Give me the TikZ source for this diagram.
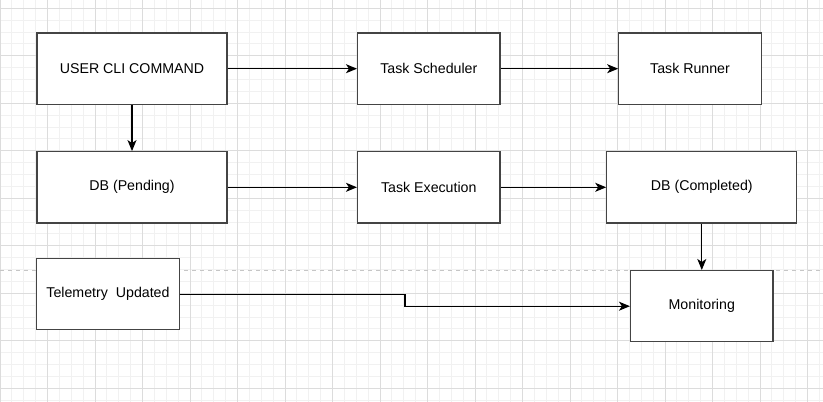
\documentclass[tikz,border=0pt]{standalone}
\usepackage{fontspec}
\setmainfont{Liberation Sans}
\usepackage{tikz}
\usetikzlibrary{arrows.meta}
\tikzset{>={Stealth[length=11pt,width=9pt,inset=3pt]}}
\definecolor{gridmajor}{HTML}{DCDCDC}
\definecolor{gridminor}{HTML}{F1F1F1}
\definecolor{boxline}{HTML}{444444}
\tikzset{
  box/.style={draw=boxline,line width=1.2pt,fill=white,inner sep=0pt,
    minimum width=142.5pt,minimum height=71.25pt,
    font=\fontsize{14.2}{17}\selectfont},
  widebox/.style={box,minimum width=190pt},
  link/.style={->,line width=1.2pt,black}
}

\begin{document}
\begin{tikzpicture}[x=1pt,y=-1pt]
  \useasboundingbox (0,0) rectangle (823,402);
  \fill[white] (0,0) rectangle (823,402);

  % background grid
  \foreach \k in {0,...,70} {
    \draw[gridminor,line width=0.8pt] (11.875*\k,0) -- (11.875*\k,402);
  }
  \foreach \k in {0,...,35} {
    \draw[gridminor,line width=0.8pt] (0,-3.675+11.875*\k) -- (823,-3.675+11.875*\k);
  }
  \foreach \k in {0,...,17} {
    \draw[gridmajor,line width=0.8pt] (47.5*\k,0) -- (47.5*\k,402);
  }
  \foreach \k in {0,...,8} {
    \draw[gridmajor,line width=0.8pt] (0,8.2+47.5*\k) -- (823,8.2+47.5*\k);
  }

  % separator
  \draw[gray!45,line width=1pt,dash pattern=on 4pt off 4pt] (0,270.7) -- (823,270.7);

  % boxes
  \node[widebox] (user)    at (132,68.7)   {USER CLI COMMAND};
  \node[box]     (sched)   at (428.8,68.7) {Task Scheduler};
  \node[box]     (runner)  at (690,68.7)   {Task Runner};
  \node[widebox] (pending) at (132,187.3)  {DB (Pending)};
  \node[box]     (exec)    at (428.8,187.3) {Task Execution};
  \node[widebox] (done)    at (701.8,187.3) {DB (Completed)};
  \node[box]     (telem)   at (108,294.2)  {Telemetry~~Updated};
  \node[box]     (monit)   at (701.8,306.2) {Monitoring};

  % arrows
  \coordinate (bend) at (405,300);
  \draw[link] (user) -- (sched);
  \draw[link] (sched) -- (runner);
  \draw[link] (user) -- (pending);
  \draw[link] (pending) -- (exec);
  \draw[link] (exec) -- (done);
  \draw[link] (done) -- (monit);
  \draw[link] (telem.east) -| (bend) |- (monit.west);

\end{tikzpicture}
\end{document}
